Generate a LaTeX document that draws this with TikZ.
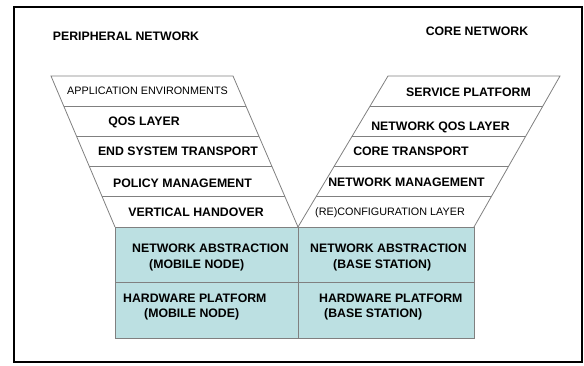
\documentclass[tikz,border=0pt]{standalone}
\usepackage{fontspec}
\setmainfont{Liberation Sans}
\usetikzlibrary{calc}
\definecolor{tealfill}{RGB}{188,224,226}
\definecolor{edgegray}{RGB}{128,128,128}
\tikzset{
  layer/.style={font=\fontsize{12.3}{16}\selectfont\bfseries, inner sep=0pt, text height=0.72em, text depth=0pt},
  thinlayer/.style={font=\fontsize{10.8}{14}\selectfont, inner sep=0pt, text height=0.72em, text depth=0pt},
  block/.style={font=\fontsize{12.3}{16}\selectfont\bfseries, inner sep=0pt, align=left, anchor=north west},
  edge/.style={draw=edgegray, line width=0.8pt},
}
\begin{document}
\begin{tikzpicture}[x=1pt,y=-1pt]
\useasboundingbox (0,0) rectangle (584,365);
\draw[line width=1.6pt] (14,7) rectangle (582,362);

% titles
\node[layer] (periph) at (126,37) {PERIPHERAL NETWORK};
\node[layer] (core) at (477,32) {CORE NETWORK};

% corners of the two stacks
\coordinate (ltl) at (51,76);
\coordinate (ltr) at (233,76);
\coordinate (lbl) at (115,227);
\coordinate (lbr) at (298,227);
\coordinate (rtl) at (388,76);
\coordinate (rtr) at (560,76);
\coordinate (rbl) at (298,227);
\coordinate (rbr) at (474,227);

% common base
\filldraw[fill=tealfill, edge] (lbl) rectangle (474,338);
\draw[edge] (lbr) -- (298,338);
\draw[edge] (115,282) -- (474,282);

% slanted stacks
\draw[edge] (lbl) -- (ltl) -- (ltr) -- (lbr);
\draw[edge] (rbl) -- (rtl) -- (rtr) -- (rbr);
\foreach \f in {0.2,0.4,0.6,0.8} {
  \draw[edge] ($(ltl)!\f!(lbl)$) -- ($(ltr)!\f!(lbr)$);
  \draw[edge] ($(rtl)!\f!(rbl)$) -- ($(rtr)!\f!(rbr)$);
}

% peripheral layers
\node[thinlayer] (appenv) at (147.5,91) {APPLICATION ENVIRONMENTS};
\node[layer] (qos) at (144,122) {QOS LAYER};
\node[layer] (endsys) at (178,152) {END SYSTEM TRANSPORT};
\node[layer] (policy) at (182.5,184) {POLICY MANAGEMENT};
\node[layer] (vho) at (196,213) {VERTICAL HANDOVER};

% core layers
\node[layer] (service) at (468.5,93) {SERVICE PLATFORM};
\node[layer] (netqos) at (440.5,127) {NETWORK QOS LAYER};
\node[layer] (coretr) at (411,152) {CORE TRANSPORT};
\node[layer] (netman) at (406.5,183) {NETWORK MANAGEMENT};
\node[thinlayer] (reconf) at (390,212) {(RE)CONFIGURATION LAYER};

% base blocks
\node[block] (absmn) at (132,243.6) {NETWORK ABSTRACTION\\\hspace*{17pt}(MOBILE NODE)};
\node[block] (hwmn) at (123,293.6) {HARDWARE PLATFORM\\[-1pt]\hspace*{21pt}(MOBILE NODE)};
\node[block] (absbs) at (310,243.6) {NETWORK ABSTRACTION\\\hspace*{23pt}(BASE STATION)};
\node[block] (hwbs) at (319,293.6) {HARDWARE PLATFORM\\[-1pt]\hspace*{5pt}(BASE STATION)};
\end{tikzpicture}
\end{document}
